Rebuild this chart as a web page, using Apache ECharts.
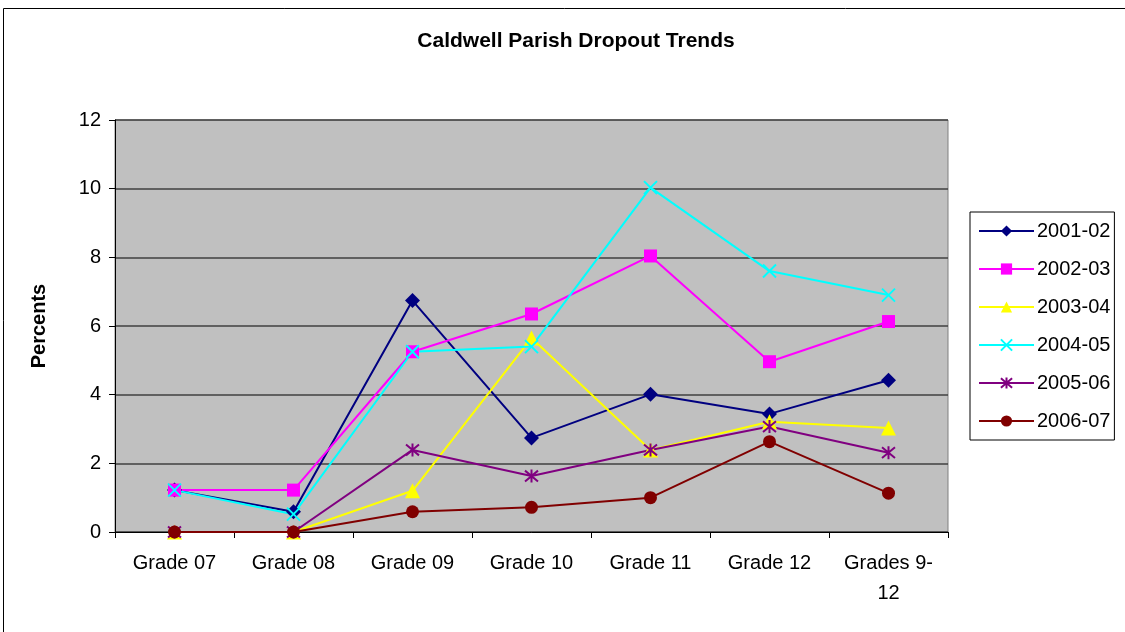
<!DOCTYPE html>
<html>
<head>
<meta charset="utf-8">
<script src="https://cdn.jsdelivr.net/npm/echarts@6/dist/echarts.min.js"></script>
<style>
  html, body { margin: 0; padding: 0; background: #fff; }
  #chart { width: 1125px; height: 632px; }
</style>
</head>
<body>
<div id="chart"></div>
<script>
const categories = ["Grade 07", "Grade 08", "Grade 09", "Grade 10", "Grade 11", "Grade 12", "Grades 9-12"];
const yTicks = [0, 2, 4, 6, 8, 10, 12];

const s2001 = [1.22, 0.59, 6.74, 2.74, 4.01, 3.44, 4.42];
const s2002 = [1.22, 1.22, 5.25, 6.35, 8.04, 4.96, 6.13];
const s2003 = [0, 0, 1.2, 5.65, 2.39, 3.21, 3.03];
const s2004 = [1.22, 0.52, 5.25, 5.40, 10.03, 7.60, 6.90];
const s2005 = [0, 0, 2.39, 1.63, 2.39, 3.07, 2.31];
const s2006 = [0, 0, 0.59, 0.72, 1.0, 2.63, 1.13];

const chart = echarts.init(document.getElementById("chart"));

const font = "Liberation Sans, Arial, sans-serif";

// stroke-only marker shapes (Excel style x and asterisk)
const crossPath = "path://M0,0L10,10M10,0L0,10";
const starPath = "path://M0,0L10,10M10,0L0,10M5,-1L5,11";

function line(name, data, color, symbol, size, strokeOnly) {
  return {
    type: "line",
    name: name,
    data: data,
    symbol: symbol,
    symbolSize: size,
    showAllSymbol: true,
    lineStyle: { color: color, width: 2 },
    itemStyle: strokeOnly
      ? { color: "rgba(0,0,0,0)", borderColor: color, borderWidth: 2 }
      : { color: color, borderWidth: 0 },
    emphasis: { disabled: true },
    animation: false,
  };
}

chart.setOption({
  backgroundColor: "#fff",
  textStyle: { fontFamily: font },
  title: {
    text: "Caldwell Parish Dropout Trends",
    left: 571,
    textAlign: "center",
    top: 26,
    textStyle: { fontSize: 21, fontWeight: "bold", color: "#000", fontFamily: font },
  },
  graphic: [
    {
      type: "rect",
      shape: { x: 3.5, y: 8.5, width: 1130, height: 640 },
      style: { fill: "none", stroke: "#000", lineWidth: 1 },
      silent: true,
      z: -10,
    },
  ],
  legend: {
    orient: "vertical",
    left: 970,
    top: 212,
    padding: [9, 4, 9, 8],
    itemGap: 18,
    itemWidth: 55,
    itemHeight: 14,
    borderColor: "#000",
    borderWidth: 1,
    textStyle: { fontSize: 20, color: "#000", fontFamily: font, lineHeight: 20, padding: [0, 0, 0, -2] },
    data: ["2001-02", "2002-03", "2003-04", "2004-05", "2005-06", "2006-07"],
  },
  grid: {
    left: 115,
    top: 120,
    right: 177,
    bottom: 100,
    show: true,
    backgroundColor: "#c0c0c0",
    borderColor: "#808080",
    borderWidth: 1,
    containLabel: false,
  },
  xAxis: {
    type: "category",
    data: categories,
    boundaryGap: true,
    axisLine: { lineStyle: { color: "#000", width: 1 } },
    axisTick: { show: true, alignWithLabel: false, length: 6, lineStyle: { color: "#000" } },
    axisLabel: {
      color: "#000",
      fontSize: 20,
      margin: 16,
      lineHeight: 30,
      interval: 0,
      formatter: (v) => v.replace("9-12", "9-\n12"),
    },
    splitLine: { show: false },
  },
  yAxis: {
    type: "value",
    min: yTicks[0],
    max: yTicks[yTicks.length - 1],
    interval: 2,
    name: "Percents",
    nameLocation: "middle",
    nameGap: 66,
    nameTextStyle: { fontSize: 20, fontWeight: "bold", color: "#000", fontFamily: font },
    axisLine: { show: true, lineStyle: { color: "#000", width: 1 } },
    axisTick: { show: true, length: 6, lineStyle: { color: "#000" } },
    axisLabel: { color: "#000", fontSize: 20, margin: 14 },
    splitLine: { show: true, lineStyle: { color: "#404040", width: 1.5 } },
  },
  series: [
    line("2001-02", s2001, "#000080", "diamond", 15, false),
    line("2002-03", s2002, "#ff00ff", "rect", 13, false),
    line("2003-04", s2003, "#ffff00", "triangle", 15, false),
    line("2004-05", s2004, "#00ffff", crossPath, 13, true),
    line("2005-06", s2005, "#800080", starPath, 13, true),
    line("2006-07", s2006, "#800000", "circle", 13, false),
  ],
});

window.addEventListener("resize", () => chart.resize());
</script>
</body>
</html>
